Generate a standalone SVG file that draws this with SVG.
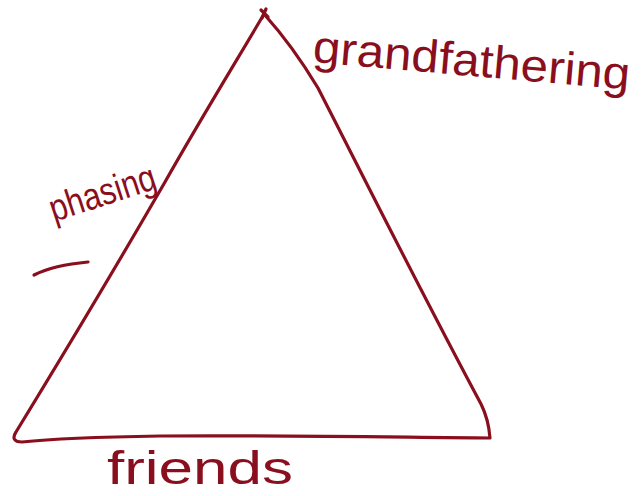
<svg xmlns="http://www.w3.org/2000/svg" width="643" height="496" viewBox="0 0 643 496">
<style>
.ink{fill:none;stroke:#8a0f1e;stroke-width:3.2;stroke-linecap:round;stroke-linejoin:round}
.lbl{fill:#8a0f1e;font-family:"Liberation Sans","DejaVu Sans",sans-serif}
</style>
<rect width="643" height="496" fill="#ffffff"/>
<g id="triangle">
<path class="ink" d="M264,14 C240,55 200,120 165,182 C120,260 60,360 16,432 C12,438 14,442 22,442 C60,438 100,437 160,436 C260,435 380,437 490,438 C489,425 486,414 481,404 C420,290 360,170 318,88 C300,58 282,34 264,14 Z"/>
<path class="ink" d="M261,10 L268,17 M266,9 L262,18" stroke-width="2"/>
</g>
<g id="label-grandfathering">
<text class="lbl" x="312" y="62" font-size="46" textLength="318" lengthAdjust="spacingAndGlyphs" transform="rotate(5 312 62)">grandfathering</text>
</g>
<g id="label-phasing">
<text class="lbl" x="54" y="222" font-size="38" textLength="110" lengthAdjust="spacingAndGlyphs" transform="rotate(-18 54 222)">phasing</text>
<path class="ink" d="M34,275 C48,268 66,264 88,262"/>
</g>
<g id="label-friends">
<text class="lbl" x="107" y="484" font-size="46" textLength="186" lengthAdjust="spacingAndGlyphs">friends</text>
</g>
</svg>
